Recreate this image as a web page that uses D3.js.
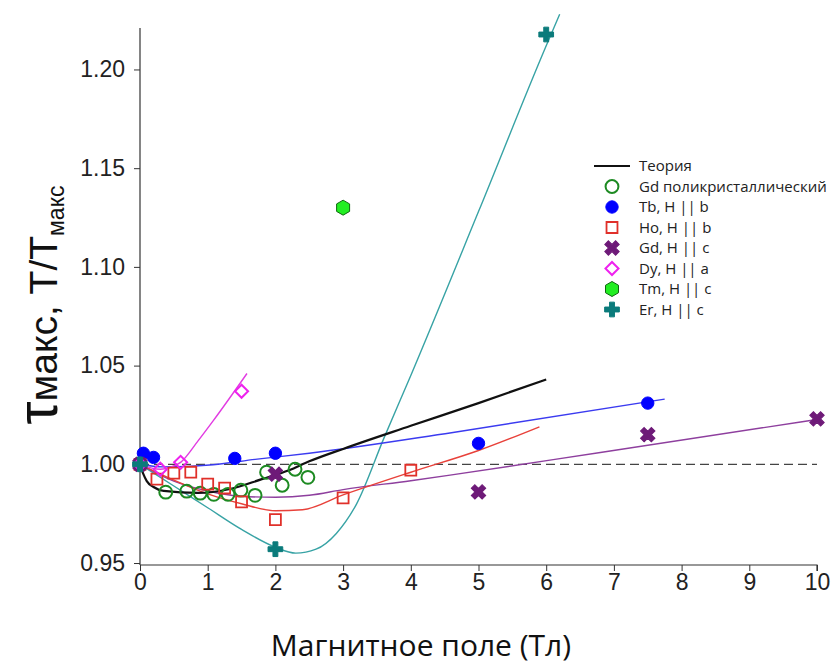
<html>
<head>
<meta charset="utf-8">
<script src="https://d3js.org/d3.v7.min.js"></script>
<style>
body { margin: 0; background: #fff; }
svg { display: block; }
.tick text { font-family: "Liberation Sans", Arial, sans-serif; font-size: 23px; fill: #222; }
.legend text { font-family: "Open Sans", sans-serif; font-size: 15px; fill: #222; }
</style>
</head>
<body>
<div id="plot"></div>
<script>
var width = 834;
var height = 669;

// Axis ticks
var xTicks = [0, 1, 2, 3, 4, 5, 6, 7, 8, 9, 10];
var yTicks = [0.95, 1.00, 1.05, 1.10, 1.15, 1.20];

// Measured points, [field, tau]
var gdPoly = [[0.38, 0.9859], [0.69, 0.9864], [0.89, 0.9854], [1.09, 0.9848], [1.30, 0.9848], [1.49, 0.9869],
  [1.70, 0.9843], [1.87, 0.9960], [2.10, 0.9894], [2.29, 0.9975], [2.48, 0.9934]];
var tbB = [[0.05, 1.0056], [0.2, 1.0035], [1.4, 1.0030], [2.0, 1.0056], [5.0, 1.0106], [7.5, 1.0310]];
var hoB = [[0, 1.0], [0.25, 0.9925], [0.5, 0.9955], [0.75, 0.9960], [1.0, 0.9900], [1.25, 0.9880],
  [1.5, 0.9810], [2.0, 0.9720], [3.0, 0.9830], [4.0, 0.9970]];
var gdC = [[0, 1.0], [2.0, 0.9950], [5.0, 0.9860], [7.5, 1.0150], [10.0, 1.0230]];
var dyA = [[0, 1.0], [0.3, 0.9975], [0.6, 1.0010], [1.5, 1.0370]];
var tmC = [[3.0, 1.1300]];
var erC = [[0, 1.0], [2.0, 0.9570], [6.0, 1.2177]];

// Fitted curves
var theory = [[0, 1.0], [0.05, 0.995], [0.1, 0.9915], [0.2, 0.9885], [0.35, 0.9865], [0.85, 0.9855], [1.33, 0.9875],
  [1.8, 0.9925], [2.2, 0.997], [2.5, 1.0015], [3, 1.0078], [4, 1.0195], [5, 1.031], [6, 1.043]];
var tbFit = [[0, 1.0], [0.34, 0.9987], [1.08, 0.9998], [1.7, 1.0025], [2.5, 1.0056], [4.6, 1.016], [7.75, 1.033]];
var hoFit = [[0, 1.0], [0.5, 0.992], [1.0, 0.985], [1.5, 0.980], [2.0, 0.9765], [2.4, 0.977], [3.0, 0.9845],
  [4.0, 0.996], [5.0, 1.007], [5.9, 1.019]];
var gdCFit = [[0, 1.0], [0.5, 0.9915], [1.0, 0.9865], [1.5, 0.9838], [2.0, 0.9833], [2.5, 0.9843], [3.0, 0.9872],
  [4.0, 0.9917], [4.58, 0.9945], [6.8, 1.006], [10, 1.0227]];
var dyFit = [[0, 1.0], [0.3, 0.9975], [0.45, 0.9985], [0.6, 1.001], [0.86, 1.012], [1.08, 1.022], [1.58, 1.046]];
var erFit = [[0, 1.0], [0.5, 0.989], [1.0, 0.978], [1.5, 0.967], [2.0, 0.958], [2.3, 0.955], [2.6, 0.957],
  [2.9, 0.965], [3.2, 0.980], [3.6, 1.013], [4.0, 1.045], [5.0, 1.128], [6.0, 1.212], [6.2, 1.228]];

var legendNames = ["Теория", "Gd поликристаллический", "Tb, H || b", "Ho, H || b", "Gd, H || c",
  "Dy, H || a", "Tm, H || c", "Er, H || c"];

var svg = d3.select("#plot").append("svg").attr("width", width).attr("height", height);

var xScale = d3.scaleLinear().domain([0, 10]).range([140, 817]);
var yScale = d3.scaleLinear().domain([0.949, 1.221]).range([565, 28]);

var x = function (d) { return xScale(d[0]); };
var y = function (d) { return yScale(d[1]); };

// axes
var xAxis = d3.axisBottom(xScale).tickValues(xTicks).tickSize(6).tickPadding(3).tickFormat(d3.format("d"));
var gx = svg.append("g").attr("transform", "translate(0," + yScale.range()[0] + ")").call(xAxis);
var yAxis = d3.axisLeft(yScale).tickValues(yTicks).tickSize(6).tickPadding(9).tickFormat(d3.format(".2f"));
var gy = svg.append("g").attr("transform", "translate(" + xScale.range()[0] + ",0)").call(yAxis);
svg.selectAll(".domain").attr("stroke", "#333").attr("stroke-width", 1.2);
svg.selectAll(".tick line").attr("stroke", "#333");
gx.select(".domain").attr("d", "M" + xScale.range()[0] + ",0H" + xScale.range()[1] + "V6");
gy.select(".domain").attr("d", "M0," + yScale.range()[1] + "V" + yScale.range()[0]);

// reference line at 1.0
svg.append("line")
  .attr("x1", xScale(0)).attr("x2", xScale(10))
  .attr("y1", yScale(1)).attr("y2", yScale(1))
  .attr("stroke", "#444").attr("stroke-width", 1.2).attr("stroke-dasharray", "9,5");

var line = d3.line().x(x).y(y).curve(d3.curveMonotoneX);
function curve(data, color, w) {
  svg.append("path").datum(data).attr("d", line)
    .attr("fill", "none").attr("stroke", color).attr("stroke-width", w);
}
curve(erFit, "#38a3a5", 1.4);
curve(gdCFit, "#8e3f9e", 1.4);
curve(hoFit, "#e8413a", 1.4);
curve(tbFit, "#3b3bf0", 1.4);
curve(dyFit, "#e23be2", 1.4);
curve(theory, "#111", 2.2);

// markers
var hexagon = function (r) {
  var pts = d3.range(6).map(function (i) {
    var a = Math.PI / 3 * i + Math.PI / 6;
    return [r * Math.cos(a), r * Math.sin(a)];
  });
  return "M" + pts.join("L") + "Z";
};
var styles = [
  null,
  { d: d3.symbol().type(d3.symbolCircle).size(130)(), fill: "none", stroke: "#1d8a22", sw: 2, rot: 0 },
  { d: d3.symbol().type(d3.symbolCircle).size(120)(), fill: "#0000ff", stroke: "#0000ff", sw: 1, rot: 0 },
  { d: d3.symbol().type(d3.symbolSquare).size(120)(), fill: "none", stroke: "#e0302a", sw: 1.8, rot: 0 },
  { d: d3.symbol().type(d3.symbolCross).size(130)(), fill: "#6e1a78", stroke: "#6e1a78", sw: 1, rot: 45 },
  { d: d3.symbol().type(d3.symbolSquare).size(85)(), fill: "none", stroke: "#ee22ee", sw: 2, rot: 45 },
  { d: hexagon(7.5), fill: "#22ee22", stroke: "#116611", sw: 1, rot: 0 },
  { d: d3.symbol().type(d3.symbolCross).size(120)(), fill: "#0b7b7b", stroke: "#0b7b7b", sw: 1, rot: 0 }
];
var series = [null, gdPoly, tbB, hoB, gdC, dyA, tmC, erC];

series.forEach(function (data, i) {
  if (!data) return;
  var s = styles[i];
  svg.append("g").selectAll("path").data(data).enter().append("path")
    .attr("d", s.d)
    .attr("transform", function (d) { return "translate(" + x(d) + "," + y(d) + ") rotate(" + s.rot + ")"; })
    .attr("fill", s.fill).attr("stroke", s.stroke).attr("stroke-width", s.sw);
});

// legend
var legend = svg.append("g").attr("class", "legend");
legendNames.forEach(function (name, i) {
  var ly = 166 + i * 20.5;
  if (i === 0) {
    legend.append("line").attr("x1", 594).attr("x2", 630).attr("y1", ly).attr("y2", ly)
      .attr("stroke", "#111").attr("stroke-width", 2);
  } else {
    var s = styles[i];
    legend.append("path").attr("d", s.d)
      .attr("transform", "translate(612," + ly + ") rotate(" + s.rot + ")")
      .attr("fill", s.fill).attr("stroke", s.stroke).attr("stroke-width", s.sw);
  }
  legend.append("text").attr("x", 639).attr("y", ly).attr("dy", "0.35em").text(name);
});

// axis titles
svg.append("text")
  .attr("x", 421).attr("y", 656).attr("text-anchor", "middle")
  .style("font-family", "'Open Sans', sans-serif").style("font-size", "30px").style("fill", "#111")
  .text("Магнитное поле (Тл)");

var yt = svg.append("text")
  .attr("transform", "translate(57,305) rotate(-90)")
  .attr("text-anchor", "middle")
  .style("font-family", "'Liberation Sans', Arial, sans-serif").style("fill", "#111");
yt.append("tspan").style("font-size", "58px").text("τ");
yt.append("tspan").style("font-size", "39px").text("макс, T/T");
yt.append("tspan").style("font-size", "23px").attr("dy", "7").text("макс");
</script>
</body>
</html>
